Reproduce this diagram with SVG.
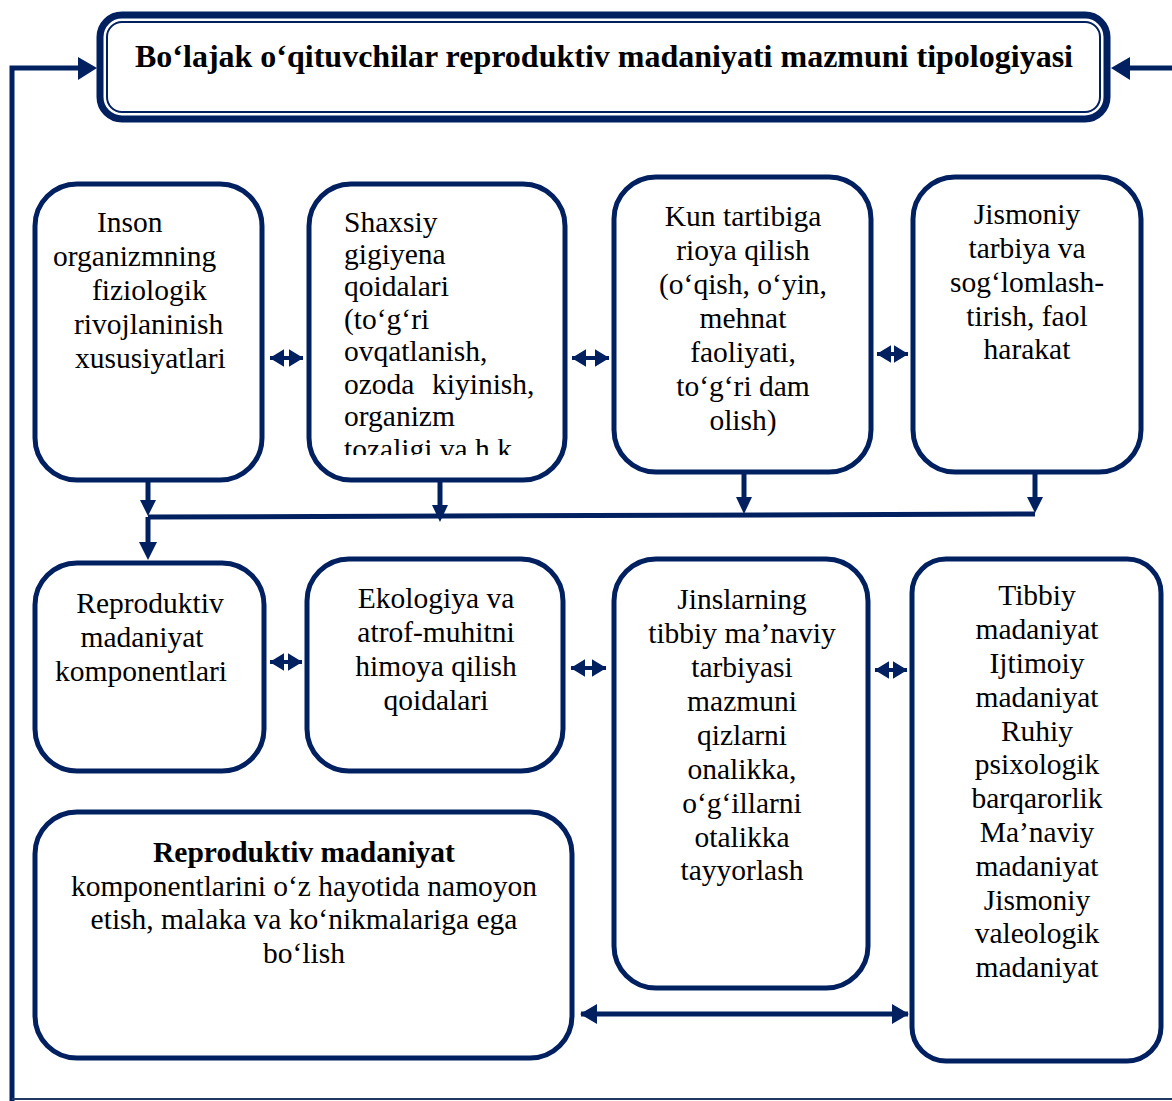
<svg xmlns="http://www.w3.org/2000/svg" width="1172" height="1101" viewBox="0 0 1172 1101">
<style>
.box{fill:#fff;stroke:#002060;stroke-width:5}
.ln{fill:none;stroke:#002060;stroke-width:5}
.ah{fill:#002060}
text{font-family:"Liberation Serif","Times New Roman",serif;font-size:29.5px;fill:#000}
.c{text-anchor:middle}
.b{font-weight:bold}
.t{font-size:32px}
</style>
<defs>
<marker id="dh" markerWidth="4" markerHeight="4" refX="3.2" refY="2" orient="auto-start-reverse" markerUnits="strokeWidth"><path d="M0,0 L3.4,2 L0,4 Z" fill="#002060"/></marker>
<marker id="sh" markerWidth="4" markerHeight="4.4" refX="3.5" refY="2.2" orient="auto-start-reverse" markerUnits="strokeWidth"><path d="M0,0 L3.6,2.2 L0,4.4 Z" fill="#002060"/></marker>
<clipPath id="clip2"><rect x="309" y="183" width="256" height="272"/></clipPath>
</defs>

<g id="connectors">
<path class="ln" d="M12,1101 V68 H80"/>
<path class="ah" d="M78,57 L97,68 L78,80 Z"/>
<path class="ln" d="M1172,68 H1128"/>
<path class="ah" d="M1130,57 L1111,68 L1130,80 Z"/>
<line x1="12" y1="1099" x2="1172" y2="1099" stroke="#1f3864" stroke-width="2"/>
<line x1="270" y1="358" x2="303" y2="358" stroke="#002060" stroke-width="4" marker-start="url(#sh)" marker-end="url(#sh)"/>
<line x1="572" y1="358" x2="609" y2="358" stroke="#002060" stroke-width="4" marker-start="url(#sh)" marker-end="url(#sh)"/>
<line x1="877" y1="354" x2="908" y2="354" stroke="#002060" stroke-width="4" marker-start="url(#sh)" marker-end="url(#sh)"/>
<line x1="270" y1="662" x2="302" y2="662" stroke="#002060" stroke-width="4" marker-start="url(#sh)" marker-end="url(#sh)"/>
<line x1="571" y1="668" x2="606" y2="668" stroke="#002060" stroke-width="4" marker-start="url(#sh)" marker-end="url(#sh)"/>
<line x1="875" y1="670" x2="907" y2="670" stroke="#002060" stroke-width="4" marker-start="url(#sh)" marker-end="url(#sh)"/>
<line x1="581" y1="1014" x2="908" y2="1014" stroke="#002060" stroke-width="5" marker-start="url(#dh)" marker-end="url(#dh)"/>
<path class="ln" d="M148,482 V506"/>
<path class="ah" d="M140,500 L156,500 L148,516 Z"/>
<path class="ln" d="M440,482 V512"/>
<path class="ah" d="M432,505 L448,505 L440,522 Z"/>
<path class="ln" d="M744,474 V504"/>
<path class="ah" d="M736,497 L752,497 L744,514 Z"/>
<path class="ln" d="M1035,474 V504"/>
<path class="ah" d="M1027,497 L1043,497 L1035,513 Z"/>
<path class="ln" d="M148,517 L1035,514"/>
<path class="ln" d="M148,517 V548"/>
<path class="ah" d="M139,542 L157,542 L148,560 Z"/>
</g>

<g id="title">
<rect x="100" y="15" width="1007" height="104" rx="22" fill="#fff" stroke="#002060" stroke-width="7"/>
<rect x="107" y="22" width="993" height="90" rx="15" fill="none" stroke="#002060" stroke-width="2"/>
<text x="604" y="67" class="c b t" textLength="938" lengthAdjust="spacingAndGlyphs">Bo‘lajak o‘qituvchilar reproduktiv madaniyati mazmuni tipologiyasi</text>
</g>

<g id="n1">
<rect class="box" x="35" y="184" width="227" height="296" rx="42"/>
<text x="97" y="232">Inson</text>
<text x="53" y="266">organizmning</text>
<text x="92" y="300">fiziologik</text>
<text x="74" y="334">rivojlaninish</text>
<text x="75" y="368">xususiyatlari</text>
</g>

<g id="n2">
<rect class="box" x="309" y="184" width="256" height="296" rx="42"/>
<g clip-path="url(#clip2)">
<text x="344" y="232">Shaxsiy</text>
<text x="344" y="264">gigiyena</text>
<text x="344" y="296">qoidalari</text>
<text x="344" y="329">(to‘g‘ri</text>
<text x="344" y="361">ovqatlanish,</text>
<text x="344" y="394">ozoda<tspan x="432">kiyinish,</tspan></text>
<text x="344" y="426">organizm</text>
<text x="344" y="459">tozaligi va h.k.</text>
</g>
</g>

<g id="n3">
<rect class="box" x="614" y="177" width="257" height="295" rx="42"/>
<text x="743" y="226" class="c">Kun tartibiga</text>
<text x="743" y="260" class="c">rioya qilish</text>
<text x="743" y="294" class="c">(o‘qish, o‘yin,</text>
<text x="743" y="328" class="c">mehnat</text>
<text x="743" y="362" class="c">faoliyati,</text>
<text x="743" y="396" class="c">to‘g‘ri dam</text>
<text x="743" y="430" class="c">olish)</text>
</g>

<g id="n4">
<rect class="box" x="913" y="177" width="228" height="295" rx="42"/>
<text x="1027" y="224" class="c">Jismoniy</text>
<text x="1027" y="258" class="c">tarbiya va</text>
<text x="1027" y="292" class="c">sog‘lomlash-</text>
<text x="1027" y="326" class="c">tirish, faol</text>
<text x="1027" y="359" class="c">harakat</text>
</g>

<g id="n5">
<rect class="box" x="35" y="563" width="229" height="208" rx="42"/>
<text x="150" y="613" class="c">Reproduktiv</text>
<text x="142" y="647" class="c">madaniyat</text>
<text x="141" y="681" class="c">komponentlari</text>
</g>

<g id="n6">
<rect class="box" x="307" y="559" width="256" height="212" rx="42"/>
<text x="436" y="608" class="c">Ekologiya va</text>
<text x="436" y="642" class="c">atrof-muhitni</text>
<text x="436" y="676" class="c">himoya qilish</text>
<text x="436" y="710" class="c">qoidalari</text>
</g>

<g id="n7">
<rect class="box" x="614" y="559" width="254" height="429" rx="42"/>
<text x="742" y="609" class="c">Jinslarning</text>
<text x="742" y="643" class="c">tibbiy ma’naviy</text>
<text x="742" y="677" class="c">tarbiyasi</text>
<text x="742" y="711" class="c">mazmuni</text>
<text x="742" y="745" class="c">qizlarni</text>
<text x="742" y="779" class="c">onalikka,</text>
<text x="742" y="813" class="c">o‘g‘illarni</text>
<text x="742" y="847" class="c">otalikka</text>
<text x="742" y="880" class="c">tayyorlash</text>
</g>

<g id="n8">
<rect class="box" x="912" y="559" width="249" height="502" rx="34"/>
<text x="1037" y="605" class="c">Tibbiy</text>
<text x="1037" y="639" class="c">madaniyat</text>
<text x="1037" y="673" class="c">Ijtimoiy</text>
<text x="1037" y="707" class="c">madaniyat</text>
<text x="1037" y="741" class="c">Ruhiy</text>
<text x="1037" y="774" class="c">psixologik</text>
<text x="1037" y="808" class="c">barqarorlik</text>
<text x="1037" y="842" class="c">Ma’naviy</text>
<text x="1037" y="876" class="c">madaniyat</text>
<text x="1037" y="910" class="c">Jismoniy</text>
<text x="1037" y="943" class="c">valeologik</text>
<text x="1037" y="977" class="c">madaniyat</text>
</g>

<g id="n9">
<rect class="box" x="35" y="812" width="537" height="246" rx="42"/>
<text x="304" y="862" class="c b">Reproduktiv madaniyat</text>
<text x="304" y="896" class="c">komponentlarini o‘z hayotida namoyon</text>
<text x="304" y="929" class="c">etish, malaka va ko‘nikmalariga ega</text>
<text x="304" y="963" class="c">bo‘lish</text>
</g>
</svg>
